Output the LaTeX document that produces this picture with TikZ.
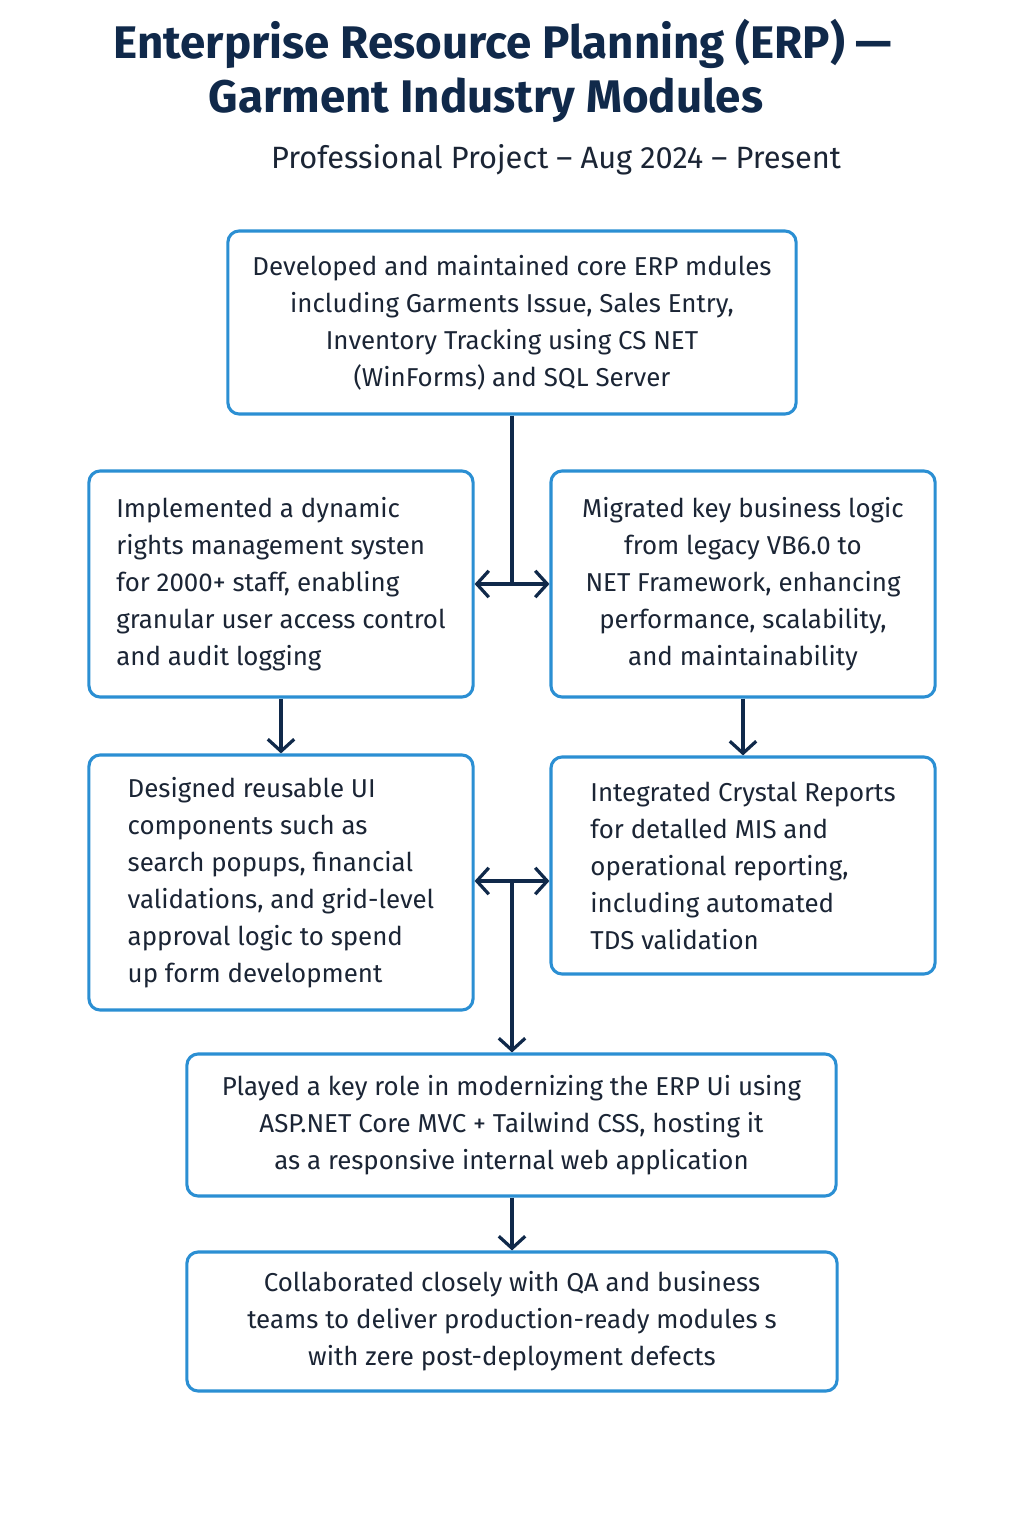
\documentclass[tikz,border=0pt]{standalone}
\usepackage{fontspec}
\setmainfont{Fira Sans}
\usepackage{tikz}
\usetikzlibrary{positioning}
\usetikzlibrary{arrows.meta}

\definecolor{navy}{HTML}{10294A}
\definecolor{boxblue}{HTML}{2B8FD3}
\definecolor{inktext}{HTML}{1B2535}

\tikzset{
  card/.style={draw=boxblue, line width=2.2pt, rounded corners=0.28cm,
    fill=white, text=inktext, inner sep=0pt,
    font=\fontsize{18.4}{26.3}\selectfont},
  wire/.style={draw=navy, line width=2.3pt},
  flow/.style={wire, -{Straight Barb[length=3mm, width=6.6mm]}},
  both/.style={wire, {Straight Barb[length=3mm, width=6.6mm]}-{Straight Barb[length=3mm, width=6.6mm]}}
}

\begin{document}
\begin{tikzpicture}[x=0.025cm, y=-0.025cm]
\useasboundingbox[fill=white] (0,0) rectangle (1024,1536);
% Title and subtitle
\node[text=navy, font=\fontsize{32.5}{38}\selectfont\bfseries] (title1) at (503,44) {Enterprise Resource Planning (ERP) ---};
\node[text=navy, font=\fontsize{32.5}{38}\selectfont\bfseries] (title2) at (486,100) {Garment Industry Modules};
\node[text=inktext, font=\fontsize{21.9}{26}\selectfont] (subtitle) at (556,160) {Professional Project -- Aug 2024 -- Present};
% Top card
\node[card, minimum width=14.2cm, minimum height=4.575cm, align=center] (dev) at (512,322.5)
  {Developed and maintained core ERP mdules\\including Garments Issue, Sales Entry,\\Inventory Tracking using CS NET\\(WinForms) and SQL Server};
% Second row
\node[card, minimum width=9.6cm, minimum height=5.65cm, align=left] (rights) at (281,584)
  {Implemented a dynamic\\rights management systen\\for 2000+ staff, enabling\\granular user access control\\and audit logging};
\node[card, minimum width=9.6cm, minimum height=5.65cm, align=center] (migrate) at (743,584)
  {Migrated key business logic\\from legacy VB6.0 to\\NET Framework, enhancing\\performance, scalability,\\and maintainability};
% Third row
\node[card, minimum width=9.6cm, minimum height=6.375cm, align=left] (reuse) at (281,882.5)
  {Designed reusable UI\\components such as\\search popups, financial\\validations, and grid-level\\approval logic to spend\\up form development};
\node[card, minimum width=9.6cm, minimum height=5.425cm, align=left] (crystal) at (743,865.5)
  {Integrated Crystal Reports\\for detalled MIS and\\operational reporting,\\including automated\\TDS validation};
% Bottom cards
\node[card, minimum width=16.225cm, minimum height=3.55cm, align=center] (modern) at (511.5,1125)
  {Played a key role in modernizing the ERP Ui using\\ASP.NET Core MVC + Tailwind CSS, hosting it\\as a responsive internal web application};
\node[card, minimum width=16.25cm, minimum height=3.475cm, align=center] (collab) at (512,1321.5)
  {Collaborated closely with QA and business\\teams to deliver production-ready modules s\\with zere post-deployment defects};
% Connectors
\coordinate (split) at (512,881);
\draw[wire] (dev.south) -- (dev.south |- rights.east);
\draw[both] (rights.east) -- (migrate.west);
\draw[flow] (rights.south) -- (reuse.north);
\draw[flow] (migrate.south) -- (migrate.south |- crystal.north);
\draw[both] (reuse.east |- split) -- (crystal.west |- split);
\draw[flow] (split) -- (split |- modern.north);
\draw[flow] (modern.south -| split) -- (collab.north -| split);
\end{tikzpicture}
\end{document}
